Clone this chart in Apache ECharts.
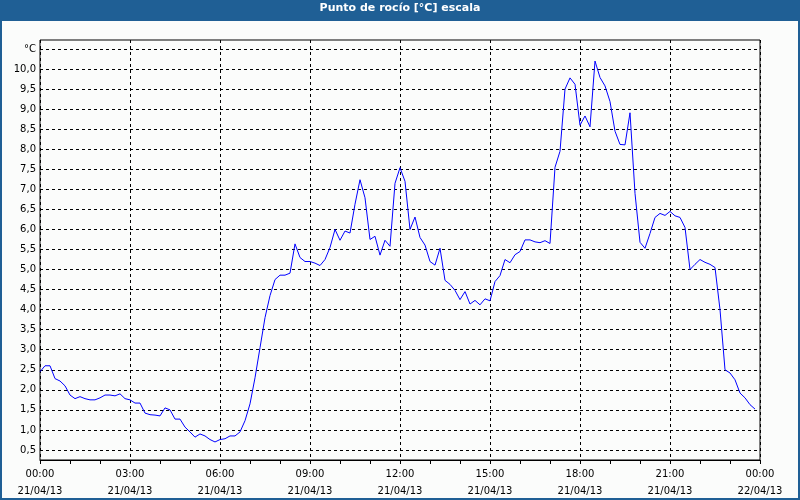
<!DOCTYPE html>
<html>
<head>
<meta charset="utf-8">
<script src="https://cdn.jsdelivr.net/npm/echarts@6/dist/echarts.min.js"></script>
<style>
  html, body { margin: 0; padding: 0; background: #fbfcfb; }
  #wrap { position: relative; width: 800px; height: 500px; background: #fbfcfb; overflow: hidden; }
  #band { position: absolute; left: 0; top: 0; width: 800px; height: 21px; background: #1f5f95; }
  #frame { position: absolute; left: 0; top: 0; width: 800px; height: 500px; box-sizing: border-box;
           border: 2px solid #1f5f95; border-top: none; }
  #chart { position: absolute; left: 0; top: 0; width: 800px; height: 500px; }
</style>
</head>
<body>
<div id="wrap">
  <div id="band"></div>
  <div id="frame"></div>
  <div id="chart"></div>
</div>
<script>
// Chart title
var chartTitle = 'Punto de rocío [°C] escala';

// Sampling: one reading every 10 minutes starting 21/04/13 00:00
var sampleMinutes = 10;

// Dew point readings [°C]
var dewPoint = [
  2.45, 2.60, 2.60, 2.28, 2.22, 2.10, 1.87, 1.78, 1.83, 1.78,
  1.75, 1.75, 1.80, 1.87, 1.87, 1.85, 1.90, 1.78, 1.75, 1.67,
  1.67, 1.42, 1.38, 1.37, 1.35, 1.55, 1.50, 1.27, 1.27, 1.07,
  0.95, 0.82, 0.90, 0.85, 0.76, 0.70, 0.76, 0.78, 0.85, 0.85,
  0.95, 1.23, 1.65, 2.30, 3.05, 3.80, 4.35, 4.75, 4.86, 4.86,
  4.91, 5.64, 5.30, 5.20, 5.20, 5.16, 5.10, 5.25, 5.55, 6.00,
  5.73, 5.96, 5.91, 6.63, 7.24, 6.79, 5.75, 5.83, 5.36, 5.73,
  5.58, 7.15, 7.54, 7.20, 6.00, 6.31, 5.80, 5.61, 5.20, 5.11,
  5.53, 4.73, 4.63, 4.48, 4.25, 4.45, 4.14, 4.23, 4.12, 4.27,
  4.22, 4.70, 4.85, 5.25, 5.17, 5.37, 5.45, 5.74, 5.74, 5.69,
  5.67, 5.72, 5.65, 7.55, 7.95, 9.50, 9.78, 9.62, 8.60, 8.83,
  8.56, 10.20, 9.79, 9.58, 9.19, 8.45, 8.12, 8.11, 8.91, 6.90,
  5.68, 5.53, 5.90, 6.30, 6.40, 6.35, 6.45, 6.34, 6.30, 6.05,
  5.00, 5.13, 5.25, 5.18, 5.13, 5.05, 4.00, 2.50, 2.42, 2.25,
  1.92, 1.80, 1.63, 1.52
];

// X axis tick labels (every 3 hours)
var xTimeLabels = ['00:00', '03:00', '06:00', '09:00', '12:00', '15:00', '18:00', '21:00', '00:00'];
var xDateLabels = ['21/04/13', '21/04/13', '21/04/13', '21/04/13', '21/04/13', '21/04/13', '21/04/13', '21/04/13', '22/04/13'];

// Y axis tick values; top one is labelled with the unit
var yTicks = [0.5, 1.0, 1.5, 2.0, 2.5, 3.0, 3.5, 4.0, 4.5, 5.0, 5.5, 6.0, 6.5, 7.0, 7.5, 8.0, 8.5, 9.0, 9.5, 10.0, 10.5];
var yUnitLabel = '°C';

var seriesData = dewPoint.map(function (v, i) { return [i * sampleMinutes / 60, v]; });

var FONT = 'DejaVu Sans';
var chart = echarts.init(document.getElementById('chart'), null, { renderer: 'canvas' });
chart.setOption({
  backgroundColor: 'transparent',
  animation: false,
  title: {
    text: chartTitle,
    left: 'center',
    top: 3,
    padding: 0,
    textStyle: { color: '#ffffff', fontFamily: FONT, fontWeight: 'bold', fontSize: 11 }
  },
  grid: {
    left: 40, right: 40, top: 40, bottom: 40,
    show: true, borderColor: '#000000', borderWidth: 1, backgroundColor: 'transparent'
  },
  xAxis: {
    type: 'value',
    min: 0, max: 24, interval: 3,
    axisLine: { show: true, lineStyle: { color: '#000', width: 1 } },
    axisTick: { show: true, length: 4, lineStyle: { color: '#000' } },
    minorTick: { show: true, splitNumber: 3, length: 4, lineStyle: { color: '#000' } },
    splitLine: { show: true, lineStyle: { color: '#000', type: [3, 3], width: 1 } },
    axisLabel: {
      margin: 6,
      fontFamily: FONT, fontSize: 10, color: '#000', lineHeight: 17,
      showMinLabel: true, showMaxLabel: true,
      formatter: function (v) {
        var idx = Math.round(v / 3);
        return xTimeLabels[idx] + '\n' + xDateLabels[idx];
      }
    }
  },
  yAxis: {
    type: 'value',
    min: 0.25, max: 10.725,
    axisLine: { show: false },
    axisTick: { show: false, customValues: yTicks },
    splitLine: { show: true, lineStyle: { color: '#000', type: [3, 3], width: 1 } },
    axisLabel: {
      customValues: yTicks,
      margin: 4,
      fontFamily: FONT, fontSize: 10, color: '#000',
      formatter: function (v) {
        if (Math.abs(v - yTicks[yTicks.length - 1]) < 1e-6) return yUnitLabel;
        return v.toFixed(1).replace('.', ',');
      }
    }
  },
  series: [{
    type: 'line',
    data: seriesData,
    showSymbol: false,
    symbol: 'none',
    smooth: false,
    lineStyle: { color: '#0000ff', width: 1 },
    itemStyle: { color: '#0000ff' }
  }]
});
</script>
</body>
</html>
